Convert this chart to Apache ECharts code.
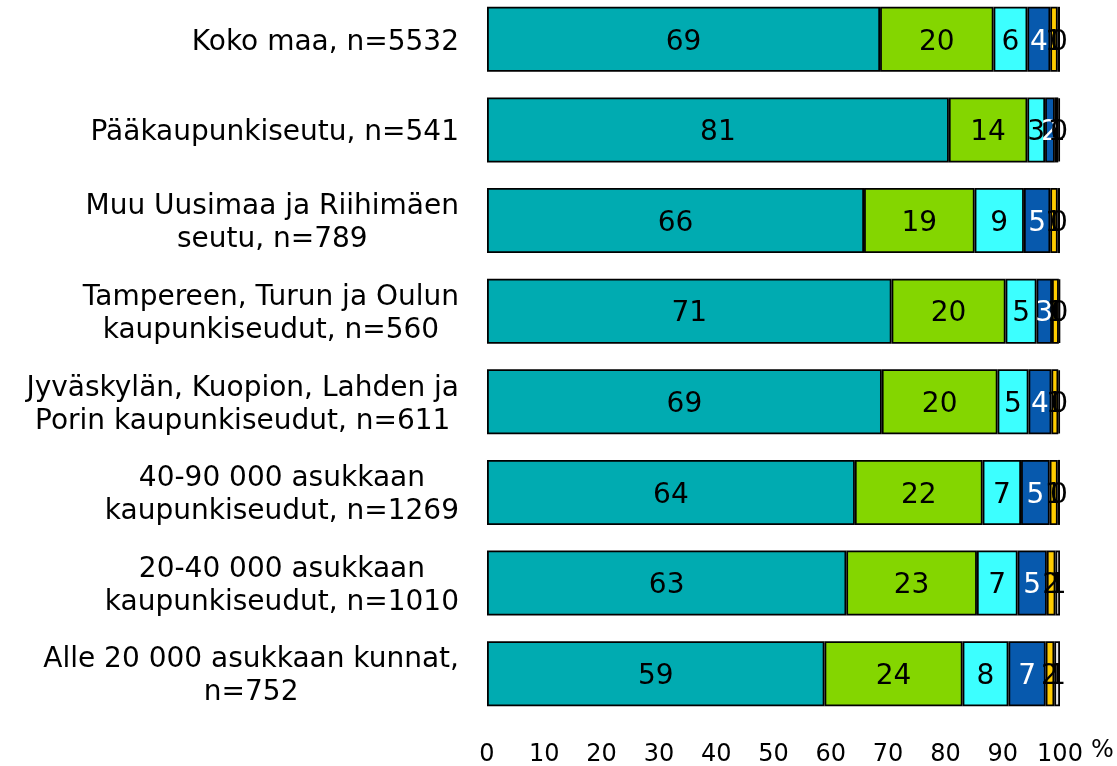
<!DOCTYPE html>
<html>
<head>
<meta charset="utf-8">
<script src="https://cdn.jsdelivr.net/npm/echarts@6/dist/echarts.min.js"></script>
<style>
  html, body { margin: 0; padding: 0; background: #ffffff; }
  #chart { width: 1117px; height: 766px; }
</style>
</head>
<body>
<div id="chart"></div>
<script>
// Region groups (top to bottom)
const categories = [
  'Koko maa, n=5532',
  'Pääkaupunkiseutu, n=541',
  'Muu Uusimaa ja Riihimäen\nseutu, n=789',
  'Tampereen, Turun ja Oulun\nkaupunkiseudut, n=560',
  'Jyväskylän, Kuopion, Lahden ja\nPorin kaupunkiseudut, n=611',
  '40-90 000 asukkaan\nkaupunkiseudut, n=1269',
  '20-40 000 asukkaan\nkaupunkiseudut, n=1010',
  'Alle 20 000 asukkaan kunnat,\nn=752'
];

// Shares (%) per answer class, one value per region group
const seriesA = [68.6, 80.6, 65.8, 70.6, 68.9, 64.2, 62.7, 58.9];
const seriesB = [19.8, 13.7, 19.3, 19.9, 20.2, 22.3, 22.8, 24.1];
const seriesC = [5.9, 3.1, 8.6, 5.4, 5.4, 6.7, 7.1, 8.0];
const seriesD = [4.0, 1.7, 4.6, 2.7, 4.0, 5.0, 5.1, 6.5];
const seriesE = [1.3, 0.6, 1.3, 1.2, 1.2, 1.4, 1.5, 1.5];
const seriesF = [0.4, 0.3, 0.4, 0.2, 0.3, 0.4, 0.8, 1.0];

const xTicks = [0, 10, 20, 30, 40, 50, 60, 70, 80, 90, 100];

const FONT = 'DejaVu Sans';

const segments = [
  { data: seriesA, color: '#00ABB1', text: '#000000' },
  { data: seriesB, color: '#84D600', text: '#000000' },
  { data: seriesC, color: '#3CFFFF', text: '#000000' },
  { data: seriesD, color: '#0759AD', text: '#FFFFFF' },
  { data: seriesE, color: '#FFCC00', text: '#000000' },
  { data: seriesF, color: '#E8E8E8', text: '#000000' }
];

const series = segments.map(s => ({
  type: 'bar',
  stack: 'total',
  data: s.data,
  barWidth: 65,
  itemStyle: { color: s.color, borderColor: '#000000', borderWidth: 1.8 },
  label: {
    show: true,
    position: 'inside',
    offset: [0, 3],
    color: s.text,
    fontFamily: FONT,
    fontSize: 28,
    formatter: p => String(Math.round(p.value))
  },
  emphasis: { disabled: true },
  animation: false
}));

const chart = echarts.init(document.getElementById('chart'), null, { renderer: 'canvas' });
chart.setOption({
  backgroundColor: '#ffffff',
  animation: false,
  grid: { left: 487, right: 57, top: -6, bottom: 47, containLabel: false, outerBoundsMode: 'none' },
  xAxis: {
    type: 'value',
    min: 0,
    max: 100,
    interval: 10,
    axisLine: { show: false },
    axisTick: { show: false },
    splitLine: { show: false },
    axisLabel: {
      margin: 24,
      fontFamily: FONT,
      fontSize: 24,
      color: '#000000',
      formatter: v => (xTicks.indexOf(v) >= 0 ? String(v) : '')
    }
  },
  yAxis: {
    type: 'category',
    data: categories,
    inverse: true,
    axisLine: { show: false },
    axisTick: { show: false },
    axisLabel: {
      margin: 28,
      align: 'right',
      padding: [6, 0, 0, 0],
      formatter: v => v.split('\n').map(l => '{c|' + l + '}').join('\n'),
      rich: {
        c: {
          align: 'center',
          fontFamily: FONT,
          fontSize: 28,
          lineHeight: 33,
          color: '#000000'
        }
      }
    }
  },
  graphic: [{
    type: 'text',
    left: 1091,
    top: 739,
    style: { text: '%', fontFamily: FONT, fontSize: 24, fill: '#000000' }
  }],
  series: series
});
</script>
</body>
</html>
